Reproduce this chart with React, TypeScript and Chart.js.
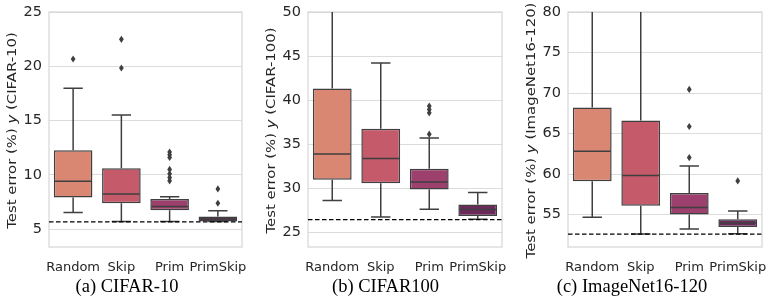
import React, { useEffect, useRef } from "react";
import { Chart, registerables } from "chart.js";

Chart.register(...registerables);

const CATEGORIES = ["Random", "Skip", "Prim", "PrimSkip"];
const BOX_COLORS = ["#d98673", "#c45a6a", "#9d406e", "#6c2a5c"];

// (a) CIFAR-10
const C10_LOW = [6.52, 5.69, 5.69, 5.69];
const C10_Q1 = [7.9, 7.38, 6.74, 5.69];
const C10_MED = [9.4, 8.24, 7.07, 5.94];
const C10_Q3 = [12.26, 10.6, 7.78, 6.15];
const C10_HIGH = [17.97, 15.5, 7.99, 6.7];
const C10_OUTLIERS = [[20.67], [22.48, 19.84], [12.1, 11.85, 11.6, 10.5, 10.1, 9.75, 9.45], [8.7, 7.38]];
const C10_BASELINE = 5.66;
const C10_TICKS = [5, 10, 15, 20, 25];
const C10_RANGE = [3.35, 25];

// (b) CIFAR100
const C100_LOW = [28.63, 26.77, 27.64, 26.5];
const C100_Q1 = [30.97, 30.59, 29.87, 26.88];
const C100_MED = [33.9, 33.39, 30.74, 27.6];
const C100_Q3 = [41.34, 36.76, 32.22, 28.17];
const C100_HIGH = [52.5, 44.21, 35.73, 29.53];
const C100_OUTLIERS = [[], [], [39.33, 38.95, 38.57, 36.15], []];
const C100_BASELINE = 26.47;
const C100_TICKS = [25, 30, 35, 40, 45, 50];
const C100_RANGE = [23.36, 50];

// (c) ImageNet16-120
const IN_LOW = [54.66, 52.6, 53.21, 52.65];
const IN_Q1 = [59.11, 56.1, 55.0, 53.46];
const IN_MED = [62.82, 59.82, 55.86, 53.96];
const IN_Q3 = [68.22, 66.61, 57.67, 54.41];
const IN_HIGH = [85, 88, 61.0, 55.44];
const IN_OUTLIERS = [[], [], [70.45, 65.87, 62.04], [59.15]];
const IN_BASELINE = 52.6;
const IN_TICKS = [55, 60, 65, 70, 75, 80];
const IN_RANGE = [51.0, 80];

const LINE = "#3f3f3f";
const FONT = "DejaVu Sans";

type PanelProps = {
  low: number[];
  q1: number[];
  med: number[];
  q3: number[];
  high: number[];
  outliers: number[][];
  baseline: number;
  ticks: number[];
  range: number[];
  dataset: string;
  left: number;
  width: number;
  padRight: number;
};

function makePlugin(p: PanelProps) {
  return {
    id: "boxExtras",
    beforeDatasetsDraw(chart: any) {
      const { ctx, chartArea: a } = chart;
      ctx.save();
      ctx.strokeStyle = "#d6d6d6";
      ctx.lineWidth = 1.2;
      ctx.strokeRect(a.left, a.top, a.right - a.left, a.bottom - a.top);
      ctx.restore();
    },
    afterDatasetsDraw(chart: any) {
      const { ctx, chartArea: a, scales } = chart;
      const y = scales.y;
      const meta = chart.getDatasetMeta(0);
      ctx.save();
      ctx.beginPath();
      ctx.rect(a.left, a.top, a.right - a.left, a.bottom - a.top);
      ctx.clip();
      ctx.strokeStyle = LINE;
      ctx.lineWidth = 1.5;
      p.low.forEach((lo, i) => {
        const bar = meta.data[i];
        const cx = bar.x;
        const w = bar.width;
        const yq1 = y.getPixelForValue(p.q1[i]);
        const yq3 = y.getPixelForValue(p.q3[i]);
        const ylo = y.getPixelForValue(lo);
        const yhi = y.getPixelForValue(p.high[i]);
        const ymed = y.getPixelForValue(p.med[i]);
        ctx.beginPath();
        ctx.moveTo(cx, yq3);
        ctx.lineTo(cx, yhi);
        ctx.moveTo(cx - w / 4, yhi);
        ctx.lineTo(cx + w / 4, yhi);
        ctx.moveTo(cx, yq1);
        ctx.lineTo(cx, ylo);
        ctx.moveTo(cx - w / 4, ylo);
        ctx.lineTo(cx + w / 4, ylo);
        ctx.moveTo(cx - w / 2 + 1, ymed);
        ctx.lineTo(cx + w / 2 - 1, ymed);
        ctx.stroke();
        ctx.fillStyle = LINE;
        p.outliers[i].forEach((v) => {
          const oy = y.getPixelForValue(v);
          ctx.beginPath();
          ctx.moveTo(cx, oy - 3.6);
          ctx.lineTo(cx + 2.4, oy);
          ctx.lineTo(cx, oy + 3.6);
          ctx.lineTo(cx - 2.4, oy);
          ctx.closePath();
          ctx.fill();
        });
      });
      const yb = y.getPixelForValue(p.baseline);
      ctx.strokeStyle = "#000";
      ctx.lineWidth = 1.3;
      ctx.setLineDash([4.5, 2.5]);
      ctx.beginPath();
      ctx.moveTo(a.left, yb);
      ctx.lineTo(a.right, yb);
      ctx.stroke();
      ctx.restore();
    },
    afterDraw(chart: any) {
      const { ctx, chartArea: a } = chart;
      const parts: [string, string][] = [
        ["Test error (%) ", `12px "${FONT}"`],
        ["y", `italic 12px "${FONT}"`],
        [` (${p.dataset})`, `12px "${FONT}"`],
      ];
      ctx.save();
      ctx.translate(a.left - 36, (a.top + a.bottom) / 2 + 1);
      ctx.rotate(-Math.PI / 2);
      ctx.scale(1.24, 1);
      ctx.fillStyle = "#262626";
      ctx.textBaseline = "middle";
      ctx.textAlign = "left";
      let total = 0;
      parts.forEach(([t, f]) => {
        ctx.font = f;
        total += ctx.measureText(t).width;
      });
      let x = -total / 2;
      parts.forEach(([t, f]) => {
        ctx.font = f;
        ctx.fillText(t, x, 0);
        x += ctx.measureText(t).width;
      });
      ctx.restore();
    },
  };
}

function Panel(p: PanelProps) {
  const ref = useRef<HTMLCanvasElement | null>(null);
  useEffect(() => {
    if (!ref.current) return;
    const chart = new Chart(ref.current, {
      type: "bar",
      data: {
        labels: CATEGORIES,
        datasets: [
          {
            data: p.q1.map((v, i) => [v, p.q3[i]]) as any,
            backgroundColor: BOX_COLORS,
            borderColor: LINE,
            borderWidth: 1.5,
            borderSkipped: false,
            categoryPercentage: 0.8,
            barPercentage: 1,
          },
        ],
      },
      options: {
        responsive: false,
        animation: false,
        layout: { padding: { left: 0, right: p.padRight, top: 12, bottom: 0 } },
        plugins: { legend: { display: false }, tooltip: { enabled: false }, title: { display: false } },
        scales: {
          x: {
            grid: { display: false },
            border: { display: false },
            ticks: {
              autoSkip: false,
              maxRotation: 0,
              padding: 5,
              color: "#262626",
              font: { family: FONT, size: 13 },
            },
            afterFit: (s: any) => {
              s.height = 50;
              s.paddingLeft = 0;
              s.paddingRight = 0;
            },
          },
          y: {
            min: p.range[0],
            max: p.range[1],
            grid: { color: "#dcdcdc", lineWidth: 1, drawTicks: false },
            border: { display: false },
            ticks: {
              padding: 7,
              color: "#262626",
              font: { family: FONT, size: 14.5 },
            },
            afterBuildTicks: (s: any) => {
              s.ticks = p.ticks.map((v) => ({ value: v }));
            },
            afterFit: (s: any) => {
              s.width = 49;
              s.paddingTop = 0;
              s.paddingBottom = 0;
            },
          },
        },
      },
      plugins: [makePlugin(p)],
    });
    return () => chart.destroy();
  }, []);
  return (
    <canvas
      ref={ref}
      width={p.width}
      height={297}
      style={{ position: "absolute", left: p.left, top: 0, width: p.width, height: 297 }}
    />
  );
}

const captionStyle = (center: number): React.CSSProperties => ({
  position: "absolute",
  left: center - 120,
  width: 240,
  top: 277,
  textAlign: "center",
  fontFamily: '"Liberation Serif", serif',
  fontSize: 18.5,
  lineHeight: "18px",
  color: "#000",
  whiteSpace: "nowrap",
});

export default function App() {
  return (
    <div
      style={{
        position: "absolute",
        left: 0,
        top: 0,
        width: 766,
        height: 297,
        overflow: "hidden",
        background: "#fff",
      }}
    >
      <Panel
        low={C10_LOW} q1={C10_Q1} med={C10_MED} q3={C10_Q3} high={C10_HIGH}
        outliers={C10_OUTLIERS} baseline={C10_BASELINE} ticks={C10_TICKS} range={C10_RANGE}
        dataset="CIFAR-10" left={0} width={255} padRight={13}
      />
      <Panel
        low={C100_LOW} q1={C100_Q1} med={C100_MED} q3={C100_Q3} high={C100_HIGH}
        outliers={C100_OUTLIERS} baseline={C100_BASELINE} ticks={C100_TICKS} range={C100_RANGE}
        dataset="CIFAR-100" left={259} width={255} padRight={12}
      />
      <Panel
        low={IN_LOW} q1={IN_Q1} med={IN_MED} q3={IN_Q3} high={IN_HIGH}
        outliers={IN_OUTLIERS} baseline={IN_BASELINE} ticks={IN_TICKS} range={IN_RANGE}
        dataset="ImageNet16-120" left={519} width={247} padRight={4}
      />
      <div style={captionStyle(127)}>(a) CIFAR-10</div>
      <div style={captionStyle(385.5)}>(b) CIFAR100</div>
      <div style={captionStyle(632)}>(c) ImageNet16-120</div>
    </div>
  );
}
